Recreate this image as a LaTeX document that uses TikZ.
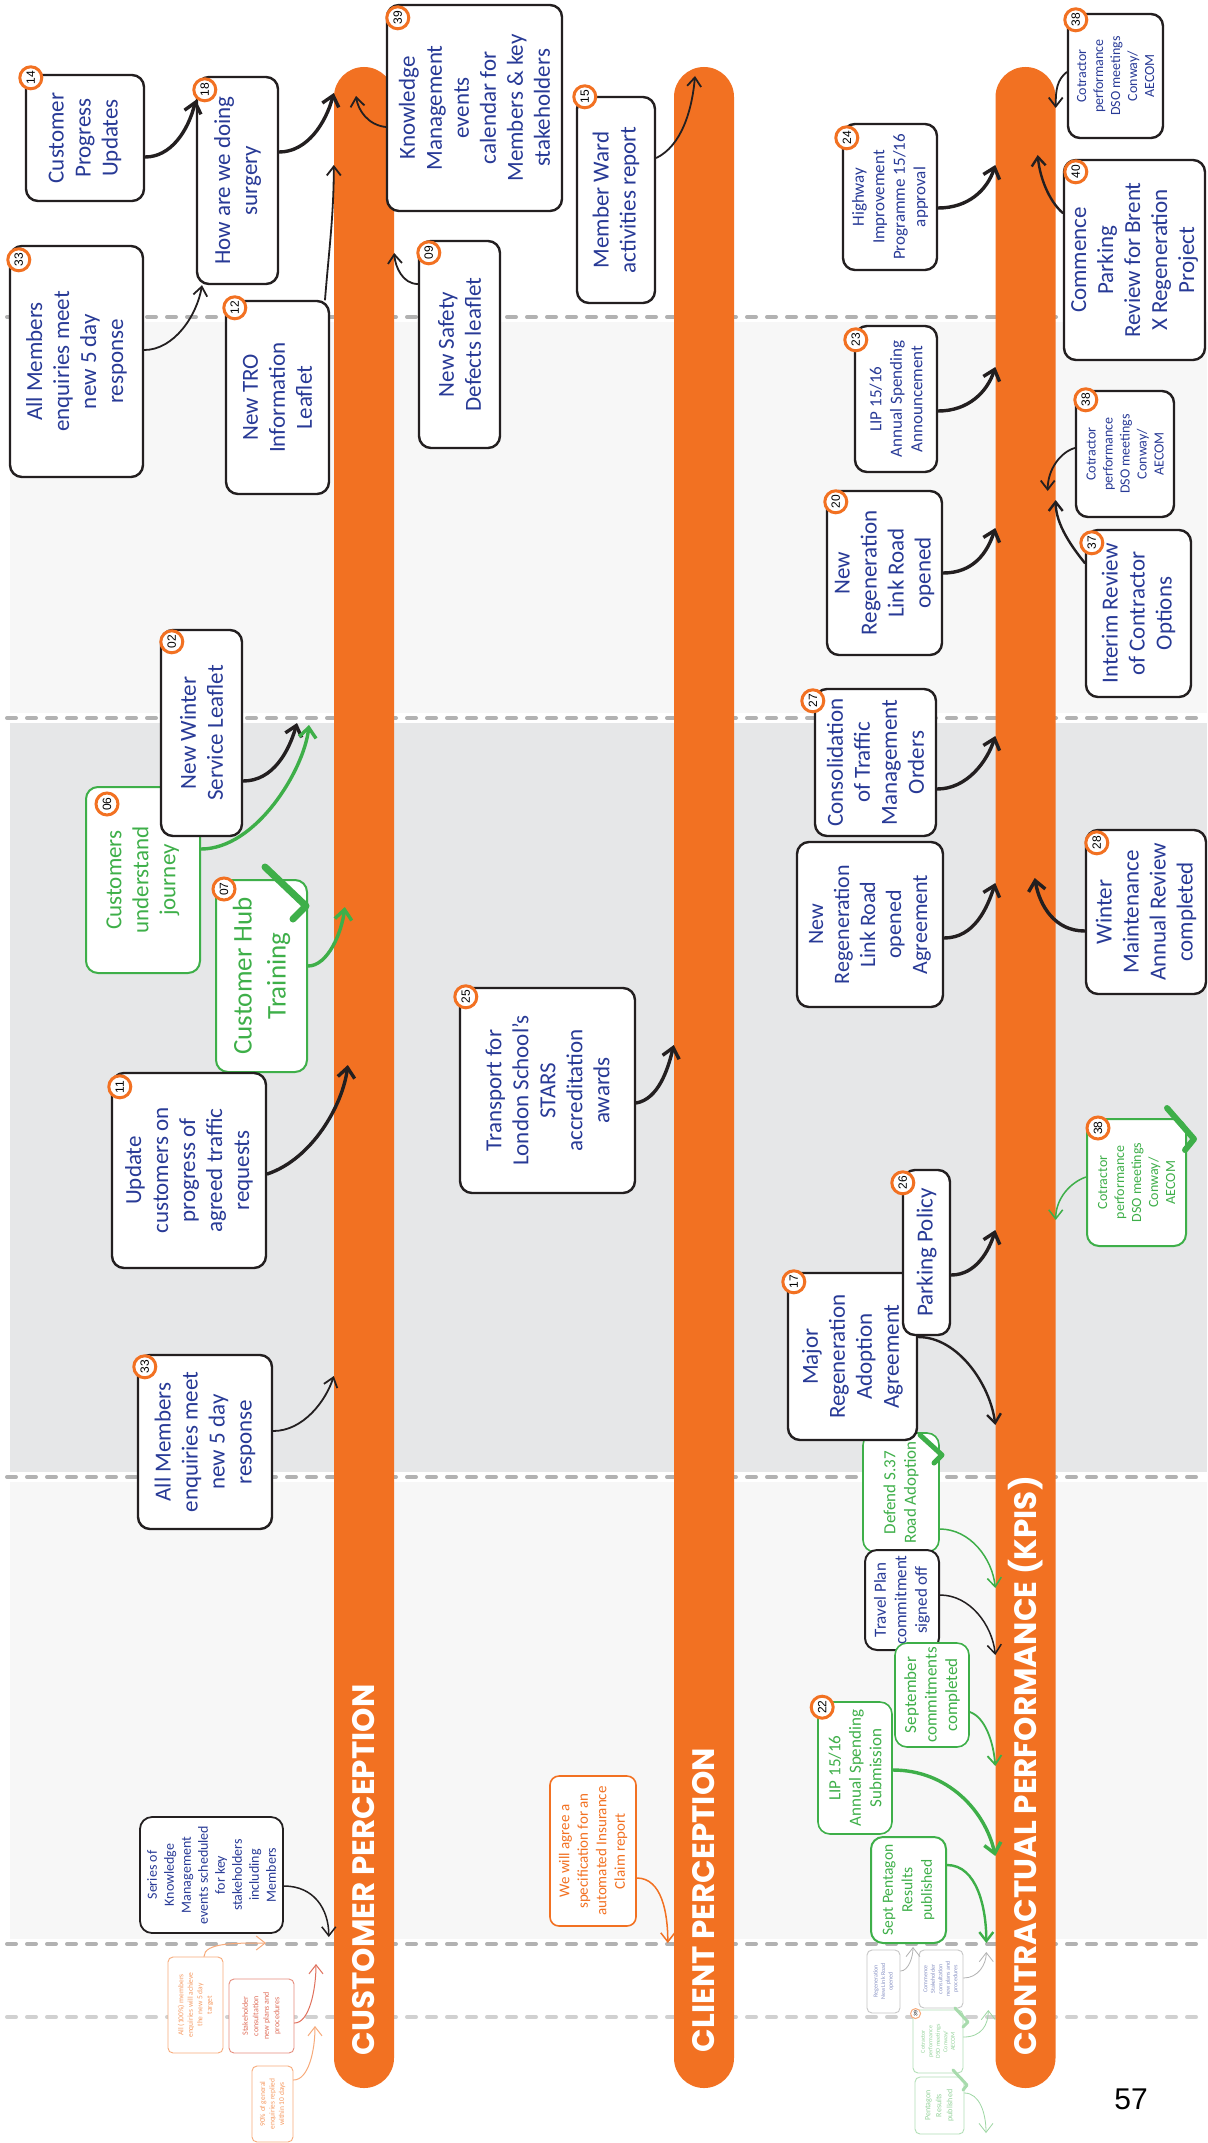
\documentclass[tikz,border=0pt]{standalone}
\usepackage{fontspec}
\setmainfont{Carlito}
\newfontfamily\lanefont{Poppins}
\newfontfamily\numfont{Liberation Sans}
\usetikzlibrary{arrows.meta,calc}

\definecolor{kpiorange}{RGB}{242,113,34}
\definecolor{kpiblue}{RGB}{40,58,150}
\definecolor{kpigreen}{RGB}{62,175,73}
\definecolor{inkblack}{RGB}{35,31,32}
\definecolor{bandlight}{RGB}{247,247,247}
\definecolor{banddark}{RGB}{230,231,232}
\definecolor{dashgrey}{RGB}{178,178,178}
\definecolor{stakered}{RGB}{224,112,92}

\newcommand{\bigtxt}{\fontsize{23}{27}\selectfont}
\newcommand{\midtxt}{\fontsize{17}{20.5}\selectfont}
\newcommand{\smalltxt}{\fontsize{14}{17}\selectfont}
\newcommand{\tinytxt}{\fontsize{7.5}{9.5}\selectfont}
\newcommand{\microtxt}{\fontsize{6}{7.5}\selectfont}

\tikzset{
  sz/.style 2 args={minimum width=#1pt, minimum height=#2pt},
  card/.style={draw=inkblack, line width=2.4pt, fill=white, rounded corners=12pt,
    rotate=90, align=center, inner sep=1pt, text=kpiblue, font=\bigtxt},
  greencard/.style={card, draw=kpigreen, line width=2pt, text=kpigreen},
  orangecard/.style={card, draw=kpiorange, line width=1.6pt, text=kpiorange, rounded corners=9pt},
  ghostcard/.style={card, line width=0.9pt, rounded corners=5pt, font=\tinytxt},
  badge/.style={circle, draw=kpiorange, line width=3pt, fill=white, minimum size=22pt,
    inner sep=0pt, rotate=90, font=\numfont\fontsize{12}{12}\selectfont},
  lane/.style={rotate=90, fill=kpiorange, rounded corners=30pt, minimum width=2021pt,
    minimum height=60pt, inner sep=0pt},
  lanetext/.style={rotate=90, anchor=west, inner sep=0pt, text=white,
    font=\lanefont\bfseries\fontsize{31}{33}\selectfont},
  flow/.style={draw=inkblack, line width=1.8pt, line cap=round,
    -{Straight Barb[length=9pt,width=14pt]}},
  flowbold/.style={flow, line width=3.4pt, -{Straight Barb[length=10pt,width=17pt]}},
  gflow/.style={flow, draw=kpigreen},
  gflowbold/.style={flowbold, draw=kpigreen},
  donetick/.style={draw=kpigreen, line width=7pt, line cap=round, line join=round},
  divider/.style={draw=dashgrey, line width=4pt, dash pattern=on 9pt off 11pt, line cap=round}
}

\begin{document}
\begin{tikzpicture}[x=1pt, y=-1pt]
  \useasboundingbox (0,0) rectangle (1207,2143);
  \fill[white] (0,0) rectangle (1207,2143);

  % Time bands
  \fill[bandlight] (10,317) rectangle (1207,718);
  \fill[banddark] (10,718) rectangle (1207,1477);
  \fill[bandlight] (10,1477) rectangle (1207,1944);
  \foreach \y in {317,718,1477,1944} {
    \draw[white, line width=10pt] (5,\y) -- (1207,\y);
    \draw[divider] (7,\y) -- (1207,\y);
  }
  \draw[white, line width=10pt] (5,2017) -- (1207,2017);
  \draw[divider, draw=dashgrey!60] (7,2017) -- (1207,2017);

  % Lanes
  \node[lane] (cust) at (364,1077.5) {};
  \node[lane] (client) at (704,1077.5) {};
  \node[lane] (kpi) at (1025.5,1077.5) {};
  \node[lanetext] (custlbl) at ($(cust.west)+(0,-33)$) {CUSTOMER PERCEPTION};
  \node[lanetext] (clientlbl) at ($(client.west)+(0,-36)$) {CLIENT PERCEPTION};
  \node[lanetext] (kpilbl) at ($(kpi.west)+(0,-33)$) {CONTRACTUAL PERFORMANCE (KPIS)};

  % Customer perception
  \node[card, sz={126}{118}] (n14) at (85,138) {Customer\\Progress\\Updates};
  \node[card, sz={207}{81}] (n18) at (237.5,180.5) {How are we doing\\surgery};
  \node[card, sz={231}{133}] (n33a) at (76.5,361.5) {All Members\\enquiries meet\\new 5 day\\response};
  \node[card, sz={193}{103}] (n12) at (277.5,397.5) {New TRO\\Information\\Leaflet};
  \node[card, sz={206}{175}] (n39) at (474.5,108) {Knowledge\\Management\\events\\calendar for\\Members \& key\\stakeholders};
  \node[card, sz={207}{81}] (n09) at (459.5,344.5) {New Safety\\Defects leaflet};
  \node[greencard, sz={186}{114}] (n06) at (143,880) {Customers\\understand\\journey};
  \node[card, sz={206}{81}] (n02) at (201.5,733) {New Winter\\Service Leaflet};
  \node[greencard, sz={192}{91}, font=\fontsize{27}{34}\selectfont] (n07) at (261.5,976) {Customer Hub\\Training};
  \node[card, sz={195}{154}] (n11) at (189,1170.5) {Update\\customers on\\progress of\\agreed traffic\\requests};
  \node[card, sz={174}{134}] (n33b) at (205,1442) {All Members\\enquiries meet\\new 5 day\\response};
  \node[card, sz={116}{143}, line width=1.8pt, font=\smalltxt] (nseries) at (211.5,1875)
    {Series of\\Knowledge\\Management\\events scheduled\\for key\\stakeholders\\including\\Members};
  \node[ghostcard, sz={96}{55}, draw=kpiorange!60, text=kpiorange!70] (nall100) at (195.5,2005)
    {All (100\%) members\\enquiries will achieve\\the new 5 day\\target};
  \node[ghostcard, sz={74}{65}, draw=stakered!80, text=stakered, font=\fontsize{8}{10.5}\selectfont] (nstake) at (261.5,2016)
    {Stakeholder\\consultation\\new plans and\\procedures};
  \node[ghostcard, sz={76}{41}, draw=kpiorange!60, text=kpiorange!70] (n90) at (272.5,2104)
    {90\% of general\\enquiries replied\\within 10 days};

  % Client perception
  \node[card, sz={206}{78}] (n15) at (616,200) {Member Ward\\activities report};
  \node[card, sz={205}{175}] (n25) at (547.5,1090.5) {Transport for\\London School's\\STARS\\accreditation\\awards};
  \node[orangecard, sz={150}{86}, font=\fontsize{15}{18.5}\selectfont] (nagree) at (593,1851)
    {We will agree a\\specification for an\\automated Insurance\\Claim report};

  % Contractual performance
  \node[card, sz={146}{94}, font=\midtxt] (n24) at (890,197) {Highway\\Improvement\\Programme 15/16\\approval};
  \node[card, sz={124}{95}, font=\smalltxt] (n38a) at (1115.5,76) {Cotractor\\performance\\DSO meetings\\Conway/\\AECOM};
  \node[card, sz={200}{141}] (n40) at (1134.5,260) {Commence\\Parking\\Review for Brent\\X Regeneration\\Project};
  \node[card, sz={146}{82}, font=\midtxt] (n23) at (896,399) {LIP 15/16\\Annual Spending\\Announcement};
  \node[card, sz={126}{98}, font=\smalltxt] (n38b) at (1125,454) {Cotractor\\performance\\DSO meetings\\Conway/\\AECOM};
  \node[card, sz={167}{105}] (n37) at (1138.5,613.5) {Interim Review\\of Contractor\\Options};
  \node[card, sz={164}{115}] (n20) at (884.5,573) {New\\Regeneration\\Link Road\\opened};
  \node[card, sz={147}{121}] (n27) at (875.5,762.5) {Consolidation\\of Traffic\\Management\\Orders};
  \node[card, sz={165}{146}, font=\fontsize{22}{26}\selectfont] (nagr) at (870,924.5) {New\\Regeneration\\Link Road\\opened\\Agreement};
  \node[card, sz={164}{120}] (n28) at (1146,912) {Winter\\Maintenance\\Annual Review\\completed};
  \node[greencard, sz={127}{99}, font=\smalltxt] (n38c) at (1136.5,1182.5) {Cotractor\\performance\\DSO meetings\\Conway/\\AECOM};
  \node[greencard, sz={119}{76}, font=\midtxt, line width=1.6pt] (ndef) at (901,1492.5) {Defend S.37\\Road Adoption};
  \node[card, sz={167}{129}] (n17) at (852.5,1356.5) {Major\\Regeneration\\Adoption\\Agreement};
  \node[card, sz={165}{47}] (n26) at (926.5,1252.5) {Parking Policy};
  \node[card, sz={100}{74}, font=\midtxt, line width=2pt] (ntravel) at (902,1600) {Travel Plan\\commitment\\signed off};
  \node[greencard, sz={104}{74}, font=\midtxt, line width=1.6pt] (nsep) at (932,1695) {September\\commitments\\completed};
  \node[greencard, sz={132}{74}, font=\midtxt, line width=1.6pt] (n22) at (855,1768) {LIP 15/16\\Annual Spending\\Submission};
  \node[greencard, sz={106}{75}, font=\fontsize{15.5}{19.5}\selectfont, line width=2pt] (npent) at (908.5,1890) {Sept Pentagon\\Results\\published};
  \node[ghostcard, sz={63}{33}, draw=gray!45, text=kpiblue!55, font=\microtxt] (nregen) at (883.5,1981.5) {Regeneration\\New Link Road\\opened};
  \node[ghostcard, sz={58}{44}, draw=gray!45, text=kpiblue!55, font=\microtxt] (ncomm) at (941,1979) {Commence\\Stakeholder\\consultation\\new plans and\\procedures};
  \node[ghostcard, sz={63}{50}, draw=kpigreen!40, text=kpigreen!55, font=\microtxt] (n39b) at (938,2041.5) {Cotractor\\performance\\DSO meetings\\Conway/\\AECOM};
  \node[ghostcard, sz={57}{49}, draw=kpigreen!40, text=kpigreen!55, font=\fontsize{8}{11}\selectfont] (npentb) at (939.5,2105.5) {Pentagon\\Results\\published};

  % Badges
  \node[badge] (b14) at ([shift={(6,4)}]n14.north east) {14};
  \node[badge] (b18) at ([shift={(9,14)}]n18.north east) {18};
  \node[badge] (b33a) at ([shift={(10,15)}]n33a.north east) {33};
  \node[badge] (b12) at ([shift={(10,8)}]n12.north east) {12};
  \node[badge] (b39) at ([shift={(12,14)}]n39.north east) {39};
  \node[badge] (b09) at ([shift={(11,13)}]n09.north east) {09};
  \node[badge] (b06) at ([shift={(22,18)}]n06.north east) {06};
  \node[badge] (b02) at ([shift={(12,13)}]n02.north east) {02};
  \node[badge] (b07) at ([shift={(9,10)}]n07.north east) {07};
  \node[badge] (b11) at ([shift={(9,15)}]n11.north east) {11};
  \node[badge] (b33b) at ([shift={(8,13)}]n33b.north east) {33};
  \node[badge] (b15) at ([shift={(9,1)}]n15.north east) {15};
  \node[badge] (b25) at ([shift={(7,10)}]n25.north east) {25};
  \node[badge] (b24) at ([shift={(5,15)}]n24.north east) {24};
  \node[badge] (b38a) at ([shift={(9,7)}]n38a.north east) {38};
  \node[badge] (b40) at ([shift={(13,13)}]n40.north east) {40};
  \node[badge] (b23) at ([shift={(2,15)}]n23.north east) {23};
  \node[badge] (b38b) at ([shift={(11,10)}]n38b.north east) {38};
  \node[badge] (b37) at ([shift={(7,14)}]n37.north east) {37};
  \node[badge] (b20) at ([shift={(10,12)}]n20.north east) {20};
  \node[badge] (b27) at ([shift={(-1,13)}]n27.north east) {27};
  \node[badge] (b28) at ([shift={(12,14)}]n28.north east) {28};
  \node[badge] (b38c) at ([shift={(12,10)}]n38c.north east) {38};
  \node[badge] (b17) at ([shift={(7,10)}]n17.north east) {17};
  \node[badge] (b26) at ([shift={(1,14)}]n26.north east) {26};
  \node[badge] (b22) at ([shift={(5,6)}]n22.north east) {22};
  \node[badge, minimum size=10pt, line width=1pt, draw=kpiorange!60, font=\numfont\fontsize{5}{5}\selectfont]
    (b39b) at ([shift={(3,4)}]n39b.north east) {39};

  % Done ticks
  \draw[donetick] (265,867) -- (306,906) -- (293,919);
  \draw[donetick, line width=6pt] (1167,1108) -- (1194,1139) -- (1185,1150);
  \draw[donetick, line width=5pt] (920,1435) -- (942,1455) -- (934,1463);
  \draw[donetick, line width=3pt, draw=kpigreen!45] (955,2008) -- (968,2022) -- (963,2027);
  \draw[donetick, line width=3pt, draw=kpigreen!45] (953,2070) -- (967,2085) -- (963,2090);

  % Free ends
  \coordinate (w02) at (297,723);
  \coordinate (w06) at (309,725);
  \coordinate (w100) at (266,1943);
  \coordinate (wst) at (316,1964);
  \coordinate (w90) at (315,2026);
  \coordinate (wregen) at (913,1947);
  \coordinate (wpb) at (986,2133);

  % Customer links
  \draw[flowbold] (n14.south |- 0,157) .. controls +(25,0) and +(-8,32) .. (n18.north |- 0,100);
  \draw[flowbold] (n18.south |- 0,152) .. controls +(28,0) and +(-8,30) .. (cust.north |- 0,93);
  \draw[flow] (n33a.south |- 0,350) .. controls +(30,0) and +(-5,30) .. (n18.west -| 202,0);
  \draw[flow] (n12.east -| 325,0) .. controls +(4,-50) and +(0,50) .. (cust.north |- 0,165);
  \draw[flow] (n39.north |- 0,127) .. controls +(-18,-2) and +(2,14) .. ($(cust.center |- 0,96)+(-8,0)$);
  \draw[flow] (n09.north |- 0,284) .. controls +(-15,0) and +(1,14) .. (cust.south |- 0,253);
  \draw[flowbold] (n02.south |- 0,781) .. controls +(30,0) and +(-8,28) .. (w02);
  \draw[gflowbold] (n06.south |- 0,849) .. controls +(55,0) and +(-5,45) .. (w06);
  \draw[gflowbold] (n07.south |- 0,966) .. controls +(20,0) and +(-3,25) .. ($(cust.north |- 0,907)+(11,0)$);
  \draw[flowbold] (n11.south |- 0,1174) .. controls +(45,-15) and +(-5,40) .. ($(cust.north |- 0,1065)+(14,0)$);
  \draw[flow] (n33b.south |- 0,1431) .. controls +(30,0) and +(-8,25) .. (cust.north |- 0,1376);
  \draw[flow, line width=1.5pt] (nseries.south |- 0,1886) .. controls +(30,0) and +(0,-28) .. ($(cust.north |- 0,1937)+(-5,0)$);
  \draw[flow, line width=1pt, draw=kpiorange!60] (nall100.east -| 204,0) .. controls +(0,-14) and +(-30,0) .. (w100);
  \draw[flow, line width=1pt, draw=stakered] (nstake.south |- 0,2023) .. controls +(15,0) and +(0,25) .. (wst);
  \draw[flow, line width=1pt, draw=kpiorange!60] (n90.south |- 0,2080) .. controls +(15,0) and +(0,25) .. (w90);

  % Client links
  \draw[flow] (n15.south |- 0,158) .. controls +(25,-12) and +(-3,35) .. ($(client.center |- 0,76)+(-9,0)$);
  \draw[flowbold] (n25.south |- 0,1103) .. controls +(22,-4) and +(-6,25) .. (client.north |- 0,1045);
  \draw[flow, line width=1.5pt, draw=kpiorange] (nagree.south |- 0,1878) .. controls +(25,0) and +(0,-30) .. ($(client.north |- 0,1943)+(-6,0)$);

  % Contractual links
  \draw[flowbold] (n24.south |- 0,208) .. controls +(30,0) and +(-8,25) .. (kpi.north |- 0,165);
  \draw[flow] (n38a.north |- 0,72) .. controls +(-10,8) and +(0,-18) .. (kpi.south |- 0,108);
  \draw[flow, line width=2.4pt] (n40.north |- 0,213) .. controls +(-14,-12) and +(2,22) .. ($(kpi.south |- 0,155)+(-18,0)$);
  \draw[flowbold] (n23.south |- 0,411) .. controls +(30,0) and +(-8,25) .. (kpi.north |- 0,367);
  \draw[flow] (n38b.north |- 0,448) .. controls +(-14,4) and +(0,-22) .. ($(kpi.south |- 0,491)+(-8,0)$);
  \draw[flow, line width=2.4pt] (n37.north |- 0,563) .. controls +(-12,-15) and +(0,25) .. (kpi.south |- 0,500);
  \draw[flowbold] (n20.south |- 0,573) .. controls +(30,0) and +(-8,25) .. (kpi.north |- 0,528);
  \draw[flowbold] (n27.south |- 0,789) .. controls +(30,0) and +(-8,25) .. (kpi.north |- 0,736);
  \draw[flowbold] (nagr.south |- 0,938) .. controls +(30,0) and +(-8,25) .. (kpi.north |- 0,883);
  \draw[flowbold] (n28.north |- 0,931) .. controls +(-30,0) and +(5,28) .. ($(kpi.south |- 0,878)+(-21,0)$);
  \draw[flowbold] (n26.south |- 0,1275) .. controls +(25,0) and +(-6,20) .. (kpi.north |- 0,1230);
  \draw[flow, line width=2.4pt] (n17.south |- 0,1337) .. controls +(40,0) and +(-5,-40) .. (kpi.north |- 0,1425);
  \draw[gflow, line width=1.5pt] (n38c.north |- 0,1177) .. controls +(-15,5) and +(0,-22) .. (kpi.south |- 0,1220);
  \draw[gflow, line width=1.5pt] (ndef.south |- 0,1529) .. controls +(30,0) and +(-3,-30) .. (kpi.north |- 0,1588);
  \draw[flow, line width=1.5pt] (ntravel.south |- 0,1595) .. controls +(30,0) and +(-3,-30) .. (kpi.north |- 0,1655);
  \draw[gflow] (nsep.south |- 0,1712) .. controls +(15,5) and +(-2,-25) .. (kpi.north |- 0,1766);
  \draw[gflowbold] (n22.south |- 0,1770) .. controls +(55,0) and +(-10,-45) .. (kpi.north |- 0,1856);
  \draw[gflow, line width=2.4pt] (npent.south |- 0,1865) .. controls +(30,0) and +(0,-35) .. ($(kpi.north |- 0,1943)+(-9,0)$);
  \draw[flow, line width=0.8pt, draw=gray!60] (nregen.south |- 0,1971) .. controls +(8,0) and +(0,10) .. (wregen);
  \draw[flow, line width=0.8pt, draw=gray!60] (ncomm.south |- 0,1978) .. controls +(15,0) and +(0,12) .. ($(kpi.north |- 0,1952)+(-9,0)$);
  \draw[flow, line width=0.8pt, draw=kpigreen!50] (n39b.south |- 0,2037) .. controls +(18,0) and +(0,15) .. ($(kpi.north |- 0,2010)+(-7,0)$);
  \draw[flow, line width=0.8pt, draw=kpigreen!50] (npentb.south |- 0,2093) .. controls +(15,0) and +(0,-20) .. (wpb);

  \node[font=\numfont\fontsize{30}{30}\selectfont] (pg) at (1131,2099) {57};
\end{tikzpicture}
\end{document}
